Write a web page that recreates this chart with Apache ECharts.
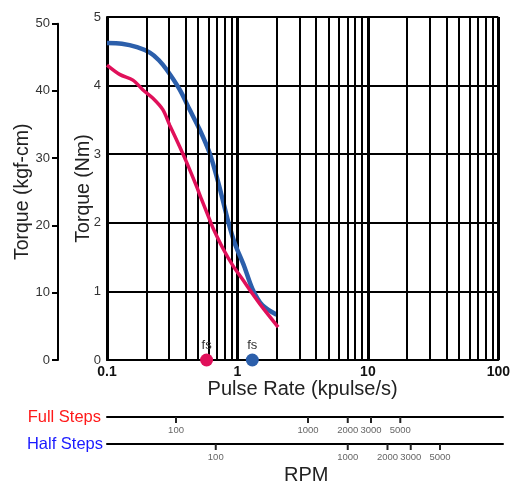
<!DOCTYPE html>
<html><head><meta charset="utf-8">
<script src="https://cdn.jsdelivr.net/npm/echarts@6/dist/echarts.min.js"></script>
<style>html,body{margin:0;padding:0;background:#fff}#c{width:513px;height:484px}</style>
</head><body><div id="c"></div>
<script>
// ---- data ----
const halfStepCurve = [[0.1,4.62],[0.13,4.61],[0.17,4.56],[0.213,4.48],[0.25,4.37],[0.287,4.23],[0.361,3.94],[0.43,3.65],[0.513,3.36],[0.611,3.02],[0.703,2.63],[0.77,2.34],[0.846,2.03],[0.95,1.71],[1.13,1.36],[1.3,1.04],[1.55,0.8],[2.0,0.66]];
const fullStepCurve = [[0.1,4.3],[0.126,4.16],[0.158,4.08],[0.188,3.94],[0.224,3.82],[0.268,3.65],[0.303,3.42],[0.361,3.11],[0.408,2.88],[0.486,2.53],[0.531,2.34],[0.611,2.05],[0.644,1.94],[0.782,1.61],[0.92,1.38],[1.1,1.17],[1.3,0.97],[1.55,0.77],[2.05,0.48]];
const fsFull = [[0.58, 0]];
const fsHalf = [[1.3, 0]];
const pulseGridValues = [0.2,0.3,0.4,0.5,0.6,0.7,0.8,0.9,2,3,4,5,6,7,8,9,20,30,40,50,60,70,80,90];
const rpmTickValues = [100,1000,2000,3000,5000];
const nmPerKgfCm = 0.0980665;
const fullStepsPerRev = 200, halfStepsPerRev = 400;

// ---- layout ----
const mainTop = 17, mainH = 343, mainLeft = 107, mainW = 396;
const kgfMax = 50, nmMax = 5;
const kgfTop = mainTop + mainH * (1 - kgfMax * nmPerKgfCm / nmMax);
const rpm = (kpps, spr) => kpps * 1000 * 60 / spr;

const FONT = 'Liberation Sans, Arial, sans-serif';
const black = {color:'#000', width:2};

const tickSeries = (xi, yi) => ({
  type:'scatter', xAxisIndex:xi, yAxisIndex:yi, clip:false, z:10,
  data: rpmTickValues.map(v => [v, 0]),
  symbol:'rect', symbolSize:[2,6], symbolOffset:[0,3],
  itemStyle:{color:'#222', opacity:1}, silent:true,
  label:{show:true, position:'bottom', distance:2, fontSize:9.5, color:'#666',
         formatter: p => String(p.value[0])}
});

const chart = echarts.init(document.getElementById('c'));
chart.setOption({
  animation:false,
  textStyle:{fontFamily:FONT},
  grid:[
    {left:mainLeft, top:mainTop, width:mainW, height:mainH},
    {left:58, top:kgfTop, width:1, height:mainTop+mainH-kgfTop},
    {left:mainLeft, top:407, width:mainW, height:10},
    {left:mainLeft, top:434, width:mainW, height:10}
  ],
  xAxis:[
    {gridIndex:0, type:'log', logBase:10, min:0.1, max:100,
     axisLine:{lineStyle:black}, axisTick:{show:false},
     splitLine:{show:true, lineStyle:{color:'#000', width:3}},
     axisLabel:{color:'#111', fontSize:14, fontWeight:'bold', margin:5},
     name:'Pulse Rate (kpulse/s)', nameLocation:'middle', nameGap:19, nameMoveOverlap:false,
     nameTextStyle:{fontSize:20, color:'#222', verticalAlign:'top'}},
    {gridIndex:1, type:'value', show:false},
    {gridIndex:2, type:'log', min:rpm(0.1, fullStepsPerRev), max:rpm(100, fullStepsPerRev),
     axisLine:{lineStyle:black}, axisTick:{show:false}, axisLabel:{show:false}, splitLine:{show:false},
     name:'Full Steps', nameLocation:'start', nameGap:6, nameMoveOverlap:false,
     nameTextStyle:{color:'#ff1a1a', fontSize:16.5}},
    {gridIndex:3, type:'log', min:rpm(0.1, halfStepsPerRev), max:rpm(100, halfStepsPerRev),
     axisLine:{lineStyle:black}, axisTick:{show:false}, axisLabel:{show:false}, splitLine:{show:false},
     name:'Half Steps', nameLocation:'start', nameGap:4, nameMoveOverlap:false,
     nameTextStyle:{color:'#1a1aff', fontSize:16.5}}
  ],
  yAxis:[
    {gridIndex:0, type:'value', min:0, max:nmMax, interval:1,
     axisLine:{show:true, lineStyle:black}, axisTick:{show:false},
     splitLine:{show:true, lineStyle:{color:'#000', width:2}},
     axisLabel:{fontSize:13, color:'#333', margin:6},
     name:'Torque (Nm)', nameLocation:'middle', nameGap:13, nameMoveOverlap:false,
     nameTextStyle:{fontSize:19.5, color:'#222'}},
    {gridIndex:1, type:'value', min:0, max:kgfMax, interval:10, position:'left',
     axisLine:{show:true, lineStyle:black},
     axisTick:{show:true, length:6, lineStyle:black},
     splitLine:{show:false},
     axisLabel:{fontSize:13, color:'#333', margin:8},
     name:'Torque (kgf-cm)', nameLocation:'middle', nameGap:25, nameMoveOverlap:false,
     nameTextStyle:{fontSize:19.5, color:'#222'}},
    {gridIndex:2, type:'value', min:0, max:1, show:false},
    {gridIndex:3, type:'value', min:0, max:1, show:false}
  ],
  graphic:[
    {type:'text', left:mainLeft + mainW/2 - 21, top:465,
     style:{text:'RPM', fontSize:20, fill:'#222', fontFamily:FONT}}
  ],
  series:[
    {type:'line', xAxisIndex:0, yAxisIndex:0, data:[], z:1, silent:true,
     markLine:{silent:true, symbol:'none', label:{show:false},
       lineStyle:{color:'#000', width:2, type:'solid'},
       data: pulseGridValues.map(v => ({xAxis:v}))}},
    {type:'line', name:'Half Steps', xAxisIndex:0, yAxisIndex:0, data:halfStepCurve,
     smooth:0.3, showSymbol:false, z:4, lineStyle:{color:'#2c5fab', width:4.5}},
    {type:'line', name:'Full Steps', xAxisIndex:0, yAxisIndex:0, data:fullStepCurve,
     smooth:0.3, showSymbol:false, z:5, lineStyle:{color:'#e0105a', width:3.5}},
    {type:'scatter', xAxisIndex:0, yAxisIndex:0, data:fsFull, symbolSize:13, clip:false, z:6,
     itemStyle:{color:'#e0105a', opacity:1},
     label:{show:true, formatter:'fs', position:'top', distance:2, fontSize:13, color:'#333'}},
    {type:'scatter', xAxisIndex:0, yAxisIndex:0, data:fsHalf, symbolSize:13, clip:false, z:6,
     itemStyle:{color:'#2c5fab', opacity:1},
     label:{show:true, formatter:'fs', position:'top', distance:2, fontSize:13, color:'#333'}},
    tickSeries(2, 2),
    tickSeries(3, 3)
  ]
});
</script></body></html>
